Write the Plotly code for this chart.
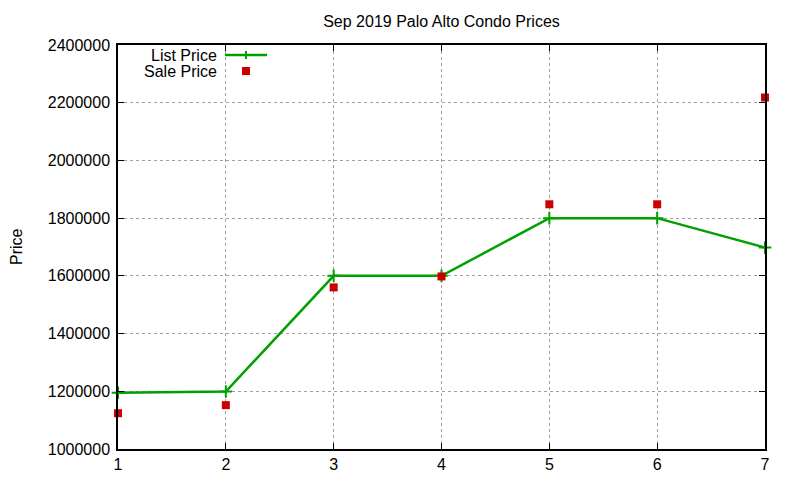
import plotly.graph_objects as go

# data
units = [1, 2, 3, 4, 5, 6, 7]
list_price = [1195000, 1199000, 1600000, 1600000, 1800000, 1800000, 1698000]
sale_price = [1124000, 1152000, 1560000, 1598000, 1848000, 1848000, 2218000]

green = '#00a000'
red = '#cc0000'
font = 'Liberation Sans, Arial, sans-serif'

fig = go.Figure()

fig.add_trace(go.Scatter(
    x=units, y=list_price, name='List Price', mode='lines+markers',
    line=dict(color=green, width=2.5),
    marker=dict(symbol='cross-thin', size=9, line=dict(color=green, width=2)),
    cliponaxis=False,
))
fig.add_trace(go.Scatter(
    x=units, y=sale_price, name='Sale Price', mode='markers',
    marker=dict(symbol='square', size=8, color=red),
    cliponaxis=False,
))

axis_style = dict(
    showline=True, linecolor='black', linewidth=1.5, mirror='ticks',
    ticks='inside', ticklen=6, tickcolor='black', tickwidth=1.2,
    showgrid=True, gridcolor='#a0a0a0', griddash='dot', gridwidth=1,
    zeroline=False, automargin=False,
    tickfont=dict(family=font, size=16, color='black'),
)

fig.update_xaxes(range=[1, 7], dtick=1, **axis_style)
fig.update_yaxes(range=[1000000, 2400000], dtick=200000, tickformat='d',
                 ticklabelstandoff=3, **axis_style)

# gnuplot style key: text on the left, sample on the right
# (helpers turn page pixels of the reference into paper coords of the plot area)
def px(x):
    return (x - 118) / 647


def py(y):
    return 1 - (y - 45) / 404


# y axis label (kept just inside the page edge)
fig.add_annotation(x=px(16), y=py(247), xref='paper', yref='paper', textangle=-90,
                   xanchor='center', yanchor='middle', text='Price', showarrow=False,
                   font=dict(family=font, size=16, color='black'))

for label, y in [('List Price', 55), ('Sale Price', 71)]:
    fig.add_annotation(
        x=px(219), y=py(y), xref='paper', yref='paper',
        xanchor='right', yanchor='middle', text=label, showarrow=False,
        font=dict(family=font, size=16, color='black'),
    )
fig.add_shape(type='line', xref='paper', yref='paper',
              x0=px(225), x1=px(267), y0=py(55), y1=py(55),
              line=dict(color=green, width=2.5))
fig.add_shape(type='line', xref='paper', yref='paper',
              x0=px(246), x1=px(246), y0=py(51), y1=py(59),
              line=dict(color=green, width=2))
fig.add_shape(type='rect', xref='paper', yref='paper',
              x0=px(242), x1=px(250), y0=py(67), y1=py(75),
              fillcolor=red, line=dict(width=0))

# page has an 8px body margin, so the figure is sized and offset to suit
fig.update_layout(
    width=792, height=472,
    margin=dict(l=110, r=35, t=37, b=31),
    title=dict(text='Sep 2019 Palo Alto Condo Prices', x=(110 + 757) / 2 / 792, xanchor='center',
               y=1 - 13 / 472, yanchor='middle', yref='container', automargin=False,
               font=dict(family=font, size=16, color='black')),
    plot_bgcolor='white', paper_bgcolor='white',
    showlegend=False,
)

fig.write_html('out.html')
